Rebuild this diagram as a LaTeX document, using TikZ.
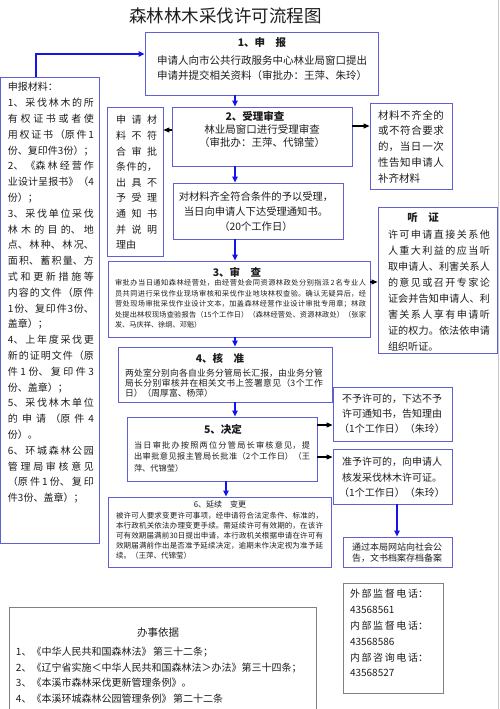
\documentclass[tikz,border=0pt]{standalone}
\usepackage{fontspec}
\setmainfont{Noto Sans CJK SC}
\usetikzlibrary{arrows.meta,calc}
\XeTeXlinebreaklocale "zh"
\XeTeXlinebreakskip=0pt plus 8pt minus 0.3pt
\tolerance=9999
\hbadness=10000
\hfuzz=3pt
\definecolor{bb}{RGB}{96,96,208}
\definecolor{ab}{RGB}{20,20,235}
\definecolor{gb}{RGB}{128,128,128}
\definecolor{tc}{RGB}{30,30,30}
\newcommand{\fsz}[2]{\fontsize{#1}{#2}\selectfont\parindent=0pt\parskip=0pt}
\newcommand{\bx}[6][box]{\node[#1,minimum width={#5-#3},minimum height={#6-#4}] (#2) at ({(#3+#5)/2},{(#4+#6)/2}) {};}
\begin{document}
\begin{tikzpicture}[x=1pt,y=-1pt,
  box/.style={draw=bb,line width=0.9pt,inner sep=0pt,rectangle},
  gbox/.style={draw=gb,line width=0.9pt,inner sep=0pt,rectangle},
  tx/.style={inner sep=0pt,outer sep=0pt,text=tc},
  jt/.style={inner sep=0pt,outer sep=0pt,text=tc,align=justify,text width=#1,anchor=north west},
  ct/.style={inner sep=0pt,outer sep=0pt,text=tc,align=center,anchor=north},
  barrow/.style={draw=ab,line width=1.4pt,-{Triangle[length=6pt,width=5.5pt]}},
  karrow/.style={draw=black,line width=1.1pt,-{Triangle[length=6pt,width=5pt]}},
]
\useasboundingbox (0,0) rectangle (500,709);
\fill[white] (0,0) rectangle (500,709);
\draw[gray!45,line width=0.8pt] (498.5,0) -- (498.5,709);

% title
\node[tx,font=\fsz{17.5}{20}] (title) at (225.5,15.5) {森林林木采伐许可流程图};

% boxes
\bx{b1}{145}{32}{378}{95}
\bx{b2}{172}{107}{352}{166}
\bx{nl}{107}{107}{163}{256}
\bx{nr}{370}{103}{452}{189}
\bx{b2b}{173}{183}{343}{239}
\bx{b3}{108}{261}{370}{337}
\bx{hz}{378}{207}{497}{353}
\bx{b4}{118}{347}{332}{402}
\bx{b5}{127}{417}{317}{481}
\bx{b5a}{333}{387}{452}{441}
\bx{b5b}{333}{449}{452}{504}
\bx{pub}{343}{537}{452}{567}
\bx{b6}{108}{497}{331}{567}
\bx{mat}{0.5}{77}{99}{543}
\bx[gbox]{ph}{343}{583}{443}{693}
\bx[gbox]{law}{9}{607}{316}{720}

% box 1
\node[tx,font=\bfseries\fsz{10.5}{13}] (t1a) at (262,43) {1、申　报};
\node[tx,align=left,anchor=north,font=\fsz{10.5}{15}] (t1b) at (262,{60-0.45*10.5}) {申请人向市公共行政服务中心林业局窗口提出\\申请并提交相关资料（审批办：王萍、朱玲）};

% box 2
\node[tx,font=\bfseries\fsz{10.5}{13}] (t2a) at (255,116) {2、受理审查};
\node[ct,font=\fsz{10.5}{13}] (t2b) at (262,{129-0.45*10.5}) {林业局窗口进行受理审查\\（审批办：王萍、代锦莹）};

% left narrow box
\node[jt=41,font=\fsz{10}{15.6}] (tnl) at (116,{120-0.45*10}) {申请材\linebreak 料不符\linebreak 合审批\linebreak 条件的，\linebreak 出具不\linebreak 予受理\linebreak 通知书\linebreak 并说明\linebreak 理由};

% right box
\node[jt=66,font=\fsz{10.5}{15.75}] (tnr) at (378,{115-0.45*10.5}) {材料不齐全的\linebreak 或不符合要求\linebreak 的，当日一次\linebreak 性告知申请人\linebreak 补齐材料};

% box 2b
\node[ct,font=\fsz{10.3}{15}] (t2c) at (256,{196-0.45*10.3}) {对材料齐全符合条件的予以受理，\\当日向申请人下达受理通知书。\\（20个工作日）};

% box 3
\node[tx,font=\bfseries\fsz{10.5}{13}] (t3a) at (237,272) {3、审　查};
\node[jt=251,font=\fsz{7.2}{10.5}] (t3b) at (115,{283-0.45*7.2}) {审批办当日通知森林经营处，由经营处会同资源林政处分别指派\,2\,名专业人\linebreak 员共同进行采伐作业现场审核和采伐作业地块林权查验。确认无疑异后，经\linebreak 营处现场审批采伐作业设计文本，加盖森林经营作业设计审批专用章；林政\linebreak 处提出林权现场查验报告（15个工作日）（森林经营处、资源林政处）（张家\linebreak 发、马庆祥、徐纲、邓魁）};

% hearing
\node[tx,font=\bfseries\fsz{10.5}{13}] (thza) at (423,218) {听　证};
\node[jt=102,font=\fsz{10.1}{16}] (thzb) at (388,{235-0.45*10.1}) {许可申请直接关系他\linebreak 人重大利益的应当听\linebreak 取申请人、利害关系人\linebreak 的意见或召开专家论\linebreak 证会并告知申请人、利\linebreak 害关系人享有申请听\linebreak 证的权力。依法依申请\linebreak 组织听证。};

% box 4
\node[tx,font=\bfseries\fsz{10.5}{13}] (t4a) at (220,358) {4、核　准};
\node[jt=198,font=\fsz{8.8}{10.2}] (t4b) at (125,{373-0.45*8.8}) {两处室分别向各自业务分管局长汇报，由业务分管\linebreak 局长分别审核并在相关文书上签署意见（3个工作\linebreak 日）（周厚富、杨萍）};

% box 5
\node[tx,font=\bfseries\fsz{10.5}{13}] (t5a) at (223,429) {5、决定};
\node[jt=176,font=\fsz{8.2}{11.5}] (t5b) at (134,{445-0.45*8.2}) {当日审批办按照两位分管局长审核意见，提\linebreak 出审批意见报主管局长批准（2个工作日）（王\linebreak 萍、代锦莹）};

% box 5a, 5b, pub
\node[ct,font=\fsz{10}{15}] (t5c) at (392,{399-0.45*10}) {不予许可的，下达不予\\许可通知书，告知理由\\（1个工作日）（朱玲）};
\node[ct,font=\fsz{10}{15.5}] (t5d) at (392,{462-0.45*10}) {准予许可的，向申请人\\核发采伐林木许可证。\\（1个工作日）（朱玲）};
\node[ct,font=\fsz{9}{10.5}] (tpub) at (397,{547-0.45*9}) {通过本局网站向社会公\\告，文书档案存档备案};

% box 6
\node[tx,font=\fsz{8}{10}] (t6a) at (220,504) {6、延续　变更};
\node[jt=207,font=\fsz{7.5}{9.8}] (t6b) at (116,{516-0.45*7.5}) {被许可人要求变更许可事项，经申请符合法定条件、标准的，\linebreak 本行政机关依法办理变更手续。需延续许可有效期的，在该许\linebreak 可有效期届满前30日提出申请，本行政机关根据申请在许可有\linebreak 效期届满前作出是否准予延续决定，逾期未作决定视为准予延\linebreak 续。（王萍、代锦莹）};

% materials
\node[jt=86,font=\fsz{10}{15.8}] (tmat) at (8,{87-0.45*10}) {申报材料：\par 1、采伐林木的所\linebreak 有权证书或者使\linebreak 用权证书（原件1\linebreak 份、复印件3份）；\par 2、《森林经营作\linebreak 业设计呈报书》（4\linebreak 份）；\par 3、采伐单位采伐\linebreak 林木的目的、地\linebreak 点、林种、林况、\linebreak 面积、蓄积量、方\linebreak 式和更新措施等\linebreak 内容的文件（原件\linebreak 1份、复印件3份、\linebreak 盖章）；\par 4、上年度采伐更\linebreak 新的证明文件（原\linebreak 件1份、复印件3\linebreak 份、盖章）；\par 5、采伐林木单位\linebreak 的申请（原件4\linebreak 份）。\par 6、环城森林公园\linebreak 管理局审核意见\linebreak （原件1份、复印\linebreak 件3份、盖章）；};

% phones
\node[jt=78,font=\fsz{10}{15.8}] (tph) at (350,{594-0.45*10}) {外部监督电话：\linebreak 43568561\par 内部监督电话：\linebreak 43568586\par 内部咨询电话：\linebreak 43568527};

% law basis
\node[tx,font=\fsz{10.5}{13}] (tlawa) at (158,633) {办事依据};
\node[tx,align=left,anchor=north west,font=\fsz{10}{15.5}] (tlawb) at (16,{652-0.45*10}) {1、《中华人民共和国森林法》\,第三十二条；\\2、《辽宁省实施＜中华人民共和国森林法＞办法》第三十四条；\\3、《本溪市森林采伐更新管理条例》。\\4、《本溪环城森林公园管理条例》\,第二十二条};

% connectors
\coordinate (mk) at (36,54);
\coordinate (ax) at (235,0);
\coordinate (ax6) at (226,0);
\coordinate (axp) at (397,0);
\coordinate (y130) at (0,130);
\coordinate (y126) at (0,126);
\coordinate (y282) at (0,282);
\coordinate (y425) at (0,425);
\coordinate (y457) at (0,457);

\draw[barrow] (mat.north -| mk) -- (mk) -- (b1.west |- mk);
\draw[barrow] (b1.south -| ax) -- (b2.north -| ax);
\draw[karrow] (b2.west |- y130) -- (nl.east |- y130);
\draw[karrow] (b2.east |- y126) -- (nr.west |- y126);
\draw[barrow] (b2.south -| ax) -- (b2b.north -| ax);
\draw[barrow] (b2b.south -| ax) -- (b3.north -| ax);
\draw[karrow] (b3.east |- y282) -- (hz.west |- y282);
\draw[barrow] (b3.south -| ax) -- (b4.north -| ax);
\draw[barrow] (b4.south -| ax) -- (b5.north -| ax);
\draw[karrow] (b5.east |- y425) -- (b5a.west |- y425);
\draw[karrow] (b5.east |- y457) -- (b5b.west |- y457);
\draw[barrow] (b5.south -| ax6) -- (b6.north -| ax6);
\draw[barrow] (b5b.south -| axp) -- (pub.north -| axp);
\end{tikzpicture}
\end{document}
